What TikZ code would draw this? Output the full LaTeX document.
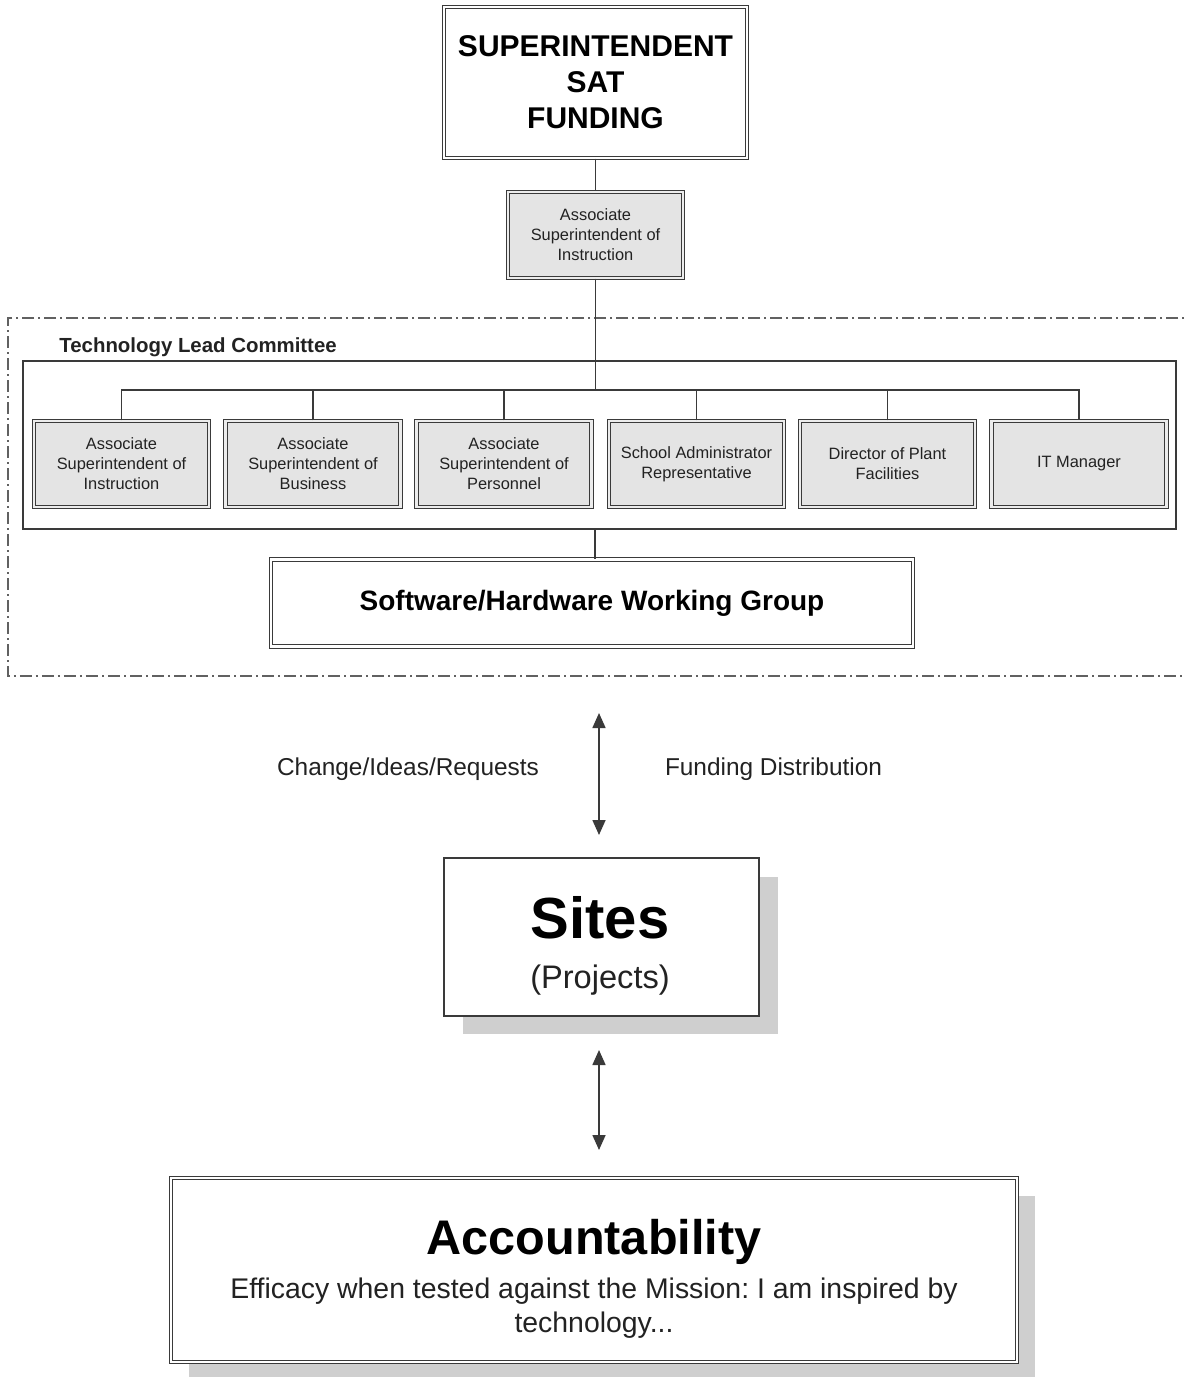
\documentclass[tikz,border=0pt]{standalone}
\usepackage{fontspec}
\setmainfont{Liberation Sans}
\usetikzlibrary{arrows.meta}
\frenchspacing
\definecolor{ln}{HTML}{3A3A3A}
\definecolor{boxgrey}{HTML}{E4E4E4}
\definecolor{shadowgrey}{HTML}{CFCFCF}
\definecolor{txt}{HTML}{222222}
\tikzset{
  dbl/.style={draw=ln, line width=0.55pt, double=white, double distance=1.3pt},
  bigbox/.style={dbl, fill=white, align=center, inner sep=0pt, text=black},
  greybox/.style={draw=ln, line width=0.55pt, double=boxgrey!70!white, double distance=1.3pt, fill=boxgrey, align=center, inner sep=0pt,
    minimum width=87.5pt, minimum height=43pt, text=txt,
    font=\fontsize{8.2pt}{10pt}\selectfont},
  conn/.style={draw=ln, line width=0.7pt},
  twoway/.style={draw=ln, line width=0.8pt, {Triangle[length=7.5pt,width=6.5pt]}-{Triangle[length=7.5pt,width=6.5pt]}},
  lbl/.style={text=txt, inner sep=0pt, font=\fontsize{12.2pt}{14pt}\selectfont}
}
\begin{document}
\begin{tikzpicture}[x=0.5pt,y=-0.5pt]
\useasboundingbox[fill=white] (0,0) rectangle (1186,1377);

% outer dash-dot region
\draw[ln!80, line width=0.7pt, dash pattern=on 6pt off 2pt on 1pt off 2pt] (1200,318) -- (8,318) -- (8,676) -- (1200,676);

% top
\node[bigbox, minimum width=151.5pt, minimum height=75.5pt,
  font=\bfseries\fontsize{15pt}{18pt}\selectfont] (top) at (595.5,82.5) {SUPERINTENDENT\\SAT\\FUNDING};
\node[greybox] (assoc) at (595.5,235) {Associate\\Superintendent of\\Instruction};
\draw[conn] (top.south) -- (assoc.north);

% committee
\node[draw=ln, line width=0.6pt, minimum width=576.5pt, minimum height=84pt, inner sep=0pt] (frame) at (599.5,445) {};
\node[anchor=base west, inner sep=0pt, text=txt, font=\bfseries\fontsize{10.2pt}{12pt}\selectfont] (tlc) at (59,352) {Technology Lead Committee};

\node[greybox] (c1) at (121.5,464) {Associate\\Superintendent of\\Instruction};
\node[greybox] (c2) at (313,464) {Associate\\Superintendent of\\Business};
\node[greybox] (c3) at (504,464) {Associate\\Superintendent of\\Personnel};
\node[greybox] (c4) at (696.5,464) {School Administrator\\Representative};
\node[greybox] (c5) at (887.5,464) {Director of Plant\\Facilities};
\node[greybox] (c6) at (1079,464) {IT Manager};

\coordinate (bus) at (595.5,390);
\draw[conn] (assoc.south) -- (bus);
\draw[conn] (c1.north) -- (c1.north |- bus) -- (c6.north |- bus) -- (c6.north);
\foreach \c in {c2,c3,c4,c5} \draw[conn] (\c.north) -- (\c.north |- bus);

\node[bigbox, minimum width=321pt, minimum height=43.5pt,
  font=\bfseries\fontsize{14pt}{16pt}\selectfont] (sw) at (592,603) {Software/Hardware Working Group};
\draw[conn] (sw.north) ++(3,0) coordinate (swt) -- (swt |- frame.south);

% arrows and labels
\coordinate (a1t) at (599,713);
\coordinate (a1b) at (599,835);
\draw[twoway] (a1t) -- (a1b);
\node[lbl] (req) at (408,769) {Change/Ideas/Requests};
\node[lbl] (fund) at (773.5,769) {Funding Distribution};

% sites
\fill[shadowgrey] (463,877) rectangle (778,1034);
\node[draw=ln, line width=0.9pt, fill=white, minimum width=157.5pt, minimum height=79pt, inner sep=0pt] (sites) at (601.5,937) {};
\node[inner sep=0pt, font=\bfseries\fontsize{29pt}{34pt}\selectfont] (sitest) at (600,918) {Sites};
\node[inner sep=0pt, text=txt, font=\fontsize{16.3pt}{18pt}\selectfont] (proj) at (600,980) {(Projects)};

\coordinate (a2t) at (599,1050);
\coordinate (a2b) at (599,1150);
\draw[twoway] (a2t) -- (a2b);

% accountability
\fill[shadowgrey] (189,1196) rectangle (1035,1377);
\node[bigbox, minimum width=423pt, minimum height=92pt] (acc) at (594,1270) {};
\node[inner sep=0pt, font=\bfseries\fontsize{24.3pt}{28pt}\selectfont] (acct) at (594,1242) {Accountability};
\node[inner sep=0pt, text=txt, align=center, font=\fontsize{14.2pt}{17pt}\selectfont] (accb) at (594,1308) {Efficacy when tested against the Mission: I am inspired by\\technology...};
\end{tikzpicture}
\end{document}
